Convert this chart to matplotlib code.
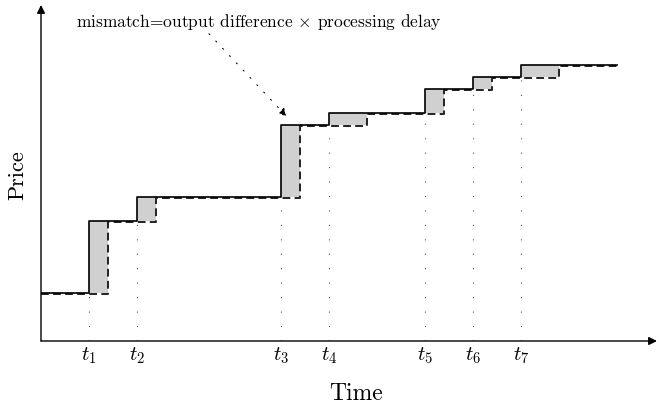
import numpy as np
import matplotlib
matplotlib.use('Agg')
import matplotlib.pyplot as plt

plt.rcParams['mathtext.fontset'] = 'cm'

# step times, processing delays and price levels
t_jump = [1, 2, 5, 6, 8, 9, 10]
delay = [0.4, 0.4, 0.4, 0.8, 0.4, 0.4, 0.8]
price = [2, 5, 6, 9, 9.5, 10.5, 11, 11.5]
t_end = 12
t_labels = ['$t_1$', '$t_2$', '$t_3$', '$t_4$', '$t_5$', '$t_6$', '$t_7$']

fig = plt.figure(figsize=(6.59, 4.07), dpi=100)
ax = fig.add_axes([41/659, 66/407, 616/659, 336/407])
ax.set_xlim(0, 616/48)
ax.set_ylim(0, 14)
ax.axis('off')

# output (solid) and delayed (dashed) staircase
xs = [0] + t_jump + [t_end]
xd = [0] + [t + d for t, d in zip(t_jump, delay)] + [t_end]
ys = price + [price[-1]]

for i in range(len(t_jump)):
    ax.fill_between([t_jump[i], t_jump[i] + delay[i]], price[i], price[i+1],
                    color='#d0d0d0', lw=0, zorder=1)
    ax.vlines(t_jump[i], 0, price[i], color='#555555', lw=0.8,
              linestyle=(0, (1, 12)), zorder=1)

ax.step(xs, ys, where='post', color='black', lw=1.2, zorder=3)
ax.step(xd, np.array(ys) - 0.06, where='post', color='#222222', lw=1.4,
        linestyle=(0, (4, 2.2)), zorder=2)

# axes with arrows
ax.annotate('', xy=(0, 1.0), xytext=(0, 0), xycoords='axes fraction',
            arrowprops=dict(arrowstyle='-|>', color='black', lw=1.0,
                            mutation_scale=12, shrinkA=0, shrinkB=0))
ax.annotate('', xy=(1.0, 0), xytext=(0, 0), xycoords='axes fraction',
            arrowprops=dict(arrowstyle='-|>', color='black', lw=1.0,
                            mutation_scale=12, shrinkA=0, shrinkB=0))

for t, lab in zip(t_jump, t_labels):
    ax.text(t, -0.6, lab, ha='center', va='center', fontsize=15)

ax.text(6.56, -2.2, 'Time', family='cmr10', ha='center',
        va='center', fontsize=17)
ax.text(-0.48, 6.9, 'Price', family='cmr10', ha='center', va='center',
        fontsize=16, rotation=90)

ax.annotate('', xy=(5.12, 9.35), xytext=(3.5, 12.8),
            arrowprops=dict(arrowstyle='-|>', color='black', lw=0.8,
                            linestyle=(0, (1, 8)), mutation_scale=12,
                            shrinkA=0, shrinkB=0))
ax.text(0.73, 13.3, r'mismatch=output difference $\times$ processing delay',
        family='cmr10', ha='left', va='center', fontsize=12.5)

fig.savefig('out.png', dpi=100)
